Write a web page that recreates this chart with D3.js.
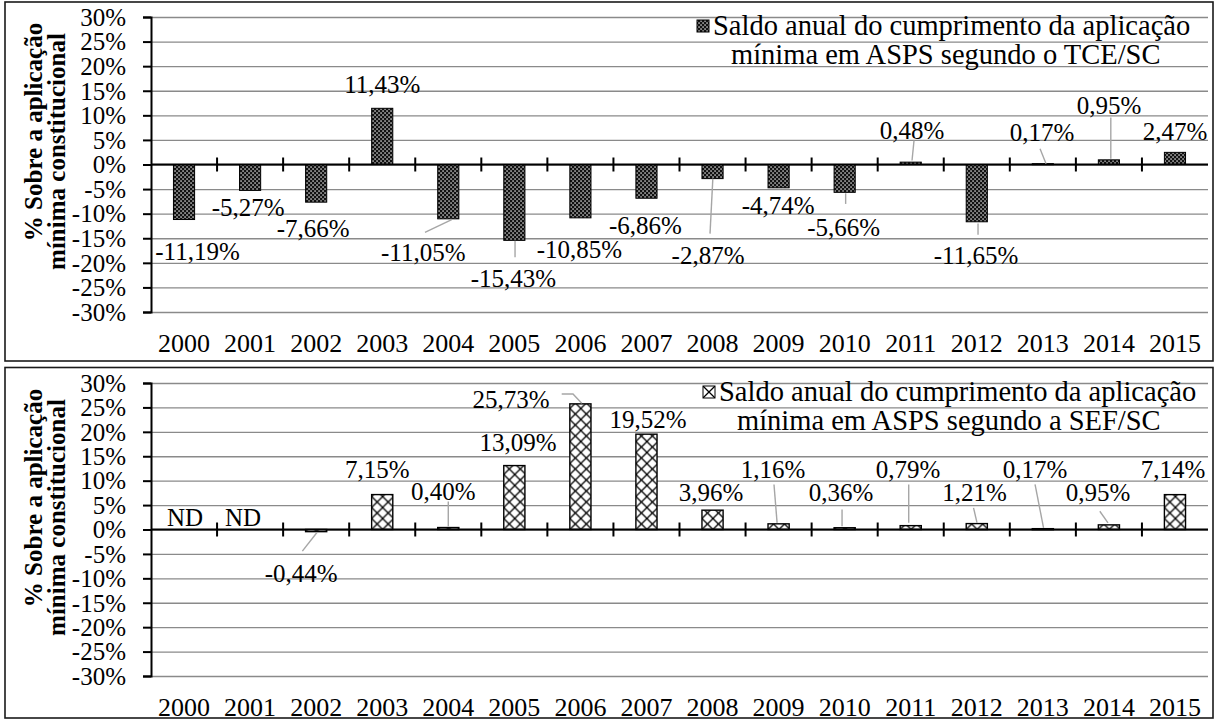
<!DOCTYPE html>
<html>
<head>
<meta charset="utf-8">
<script src="https://cdn.jsdelivr.net/npm/d3@7"></script>
<style>
  body { margin: 0; background: #fff; }
  svg { display: block; }
  text { font-family: "Liberation Serif", "Times New Roman", Times, serif; fill: #000; }
</style>
</head>
<body>
<svg id="chart" width="1215" height="721"></svg>
<script>
// ---- data ----
const years = ["2000","2001","2002","2003","2004","2005","2006","2007",
               "2008","2009","2010","2011","2012","2013","2014","2015"];
const yTicks = [30, 25, 20, 15, 10, 5, 0, -5, -10, -15, -20, -25, -30];

// annual balance (% over the constitutional minimum), TCE/SC
const tceValues = [-11.19, -5.27, -7.66, 11.43, -11.05, -15.43, -10.85, -6.86,
                   -2.87, -4.74, -5.66, 0.48, -11.65, 0.17, 0.95, 2.47];
// annual balance (% over the constitutional minimum), SEF/SC (null = not available)
const sefValues = [null, null, -0.44, 7.15, 0.40, 13.09, 25.73, 19.52,
                   3.96, 1.16, 0.36, 0.79, 1.21, 0.17, 0.95, 7.14];

const tceLegend = ["Saldo anual do cumprimento da aplicação", "mínima em ASPS segundo o TCE/SC"];
const sefLegend = ["Saldo anual do cumprimento da aplicação", "mínima em ASPS segundo a SEF/SC"];
const axisTitle = ["% Sobre a aplicação", "mínima constitucional"];
const missingText = "ND";

// ---- label layout: [dx, dy] of label centre from the bar end, optional leader ----
const tceLabelPos = [
  {d:[13.5, 32]}, {d:[-2, 17]}, {d:[-3, 26.5]}, {d:[0, -24]},
  {d:[-25, 34], l:[[-23.3, 13.6], [3.4, 0.9]]},
  {d:[-1, 38.4], l:[[0.7, 17], [0.7, 0.4]]},
  {d:[-1, 32]}, {d:[-1, 27.4]},
  {d:[-4.5, 77], l:[[-2.5, 55], [0.3, 0]]},
  {d:[-0.5, 18]},
  {d:[-1, 35], l:[[1, 11.6], [1, 1]]},
  {d:[1.3, -31.6], l:[[3.3, -21.6], [1.3, -1.6]]},
  {d:[-0.75, 34], l:[[1.25, 13], [1.25, 1.6]]},
  {d:[-0.8, -31.2], l:[[-2.8, -14.9], [3.2, 0]]},
  {d:[0.1, -54.3], l:[[1.9, -42.3], [1.9, -1]]},
  {d:[0, -21]}
];
const sefLabelPos = [
  {d:[1, -12]}, {d:[-7, -12]},
  {d:[-15, 42], l:[[-13.8, 19.5], [0.8, 0.8]]},
  {d:[-5, -25]},
  {d:[-5, -36], l:[[0, -26], [0, -1]]},
  {d:[3.7, -23]},
  {d:[-69.4, -4], l:[[-18.7, -9.9], [-7.4, -9.9], [1.3, -0.6]]},
  {d:[1.6, -14.4]}, {d:[-1.5, -17.6]},
  {d:[-5.5, -54.3], l:[[-4.6, -39.3], [-1.5, -1]]},
  {d:[-3.6, -35.2], l:[[-2.6, -18.2], [-2.6, -1.5]]},
  {d:[-2.7, -56.1], l:[[-2, -41.1], [-2, -2.8]]},
  {d:[-2.25, -31.1], l:[[-3.25, -15.8], [0.25, -0.8]]},
  {d:[-7.8, -59.2], l:[[-7.8, -44.2], [0.7, -0.9]]},
  {d:[-10.9, -32.3], l:[[-9.1, -13.6], [-0.9, -2]]},
  {d:[-2, -25]}
];

const svg = d3.select("#chart");
const defs = svg.append("defs");

// dark dotted fill
const dots = defs.append("pattern").attr("id", "dots")
  .attr("patternUnits", "userSpaceOnUse").attr("width", 4).attr("height", 4);
dots.append("rect").attr("width", 4).attr("height", 4).attr("fill", "#111");
dots.append("rect").attr("x", 0.4).attr("y", 0.4).attr("width", 1.3).attr("height", 1.3).attr("fill", "#fff");
dots.append("rect").attr("x", 2.4).attr("y", 2.4).attr("width", 1.3).attr("height", 1.3).attr("fill", "#fff");

// open diagonal lattice, one per anchor so each bar starts on the same phase
function lattice(id, x0, y0, size) {
  const p = defs.append("pattern").attr("id", id)
    .attr("patternUnits", "userSpaceOnUse").attr("x", x0).attr("y", y0)
    .attr("width", size).attr("height", size);
  p.append("rect").attr("width", size).attr("height", size).attr("fill", "#fff");
  p.append("path").attr("d", `M0,0L${size},${size}M${size},0L0,${size}`)
    .attr("stroke", "#000").attr("stroke-width", 1.25);
  return `url(#${id})`;
}

const FS = 25;
const plotX0 = 151, plotX1 = 1208;

function drawPanel(cfg) {
  const g = svg.append("g");
  const x = d3.scaleBand().domain(years).range([plotX0, plotX1]).padding(0);
  const y = d3.scaleLinear().domain([-30, 30]).range([cfg.bottom, cfg.top]);
  const bw = x.bandwidth() * 0.32;
  const y0 = y(0);

  // frame
  g.append("rect").attr("x", cfg.frame[0]).attr("y", cfg.frame[1])
    .attr("width", cfg.frame[2] - cfg.frame[0]).attr("height", cfg.frame[3] - cfg.frame[1])
    .attr("fill", "none").attr("stroke", "#1a1a1a").attr("stroke-width", 1.6);

  // gridlines
  const grid = g.append("g").attr("transform", `translate(${plotX0},0)`)
    .call(d3.axisLeft(y).tickValues(yTicks).tickSize(-(plotX1 - plotX0)).tickFormat(""));
  grid.select(".domain").remove();
  grid.selectAll("line").attr("stroke", "#8a8a8a").attr("stroke-width", 1.4);

  // y axis
  const ya = g.append("g").attr("transform", `translate(${plotX0},0)`)
    .call(d3.axisLeft(y).tickValues(yTicks).tickSize(8).tickPadding(17).tickFormat(d => d + "%"));
  ya.attr("font-family", null);
  ya.select(".domain").attr("stroke", "#000").attr("stroke-width", 2);
  ya.selectAll("line").attr("stroke", "#000").attr("stroke-width", 2);
  ya.selectAll("text").style("font-size", FS + "px").attr("dy", "0.33em");

  // legend: swatch, first line, indented second line
  const lg = g.append("g");
  lg.append("rect").attr("x", cfg.legendX - 16).attr("y", cfg.top + 3)
    .attr("width", 12).attr("height", 12)
    .attr("fill", cfg.kind === "dots" ? "url(#dots)" : lattice(cfg.id + "-lg", cfg.legendX - 16, cfg.top + 3, 12))
    .attr("stroke", "#000").attr("stroke-width", 1);
  lg.selectAll("text.lg").data(cfg.legend).join("text")
    .attr("x", (d, i) => cfg.legendX + i * 18).attr("y", (d, i) => cfg.top + 18 + i * 29)
    .style("font-size", "28.5px").text(d => d);

  // bars
  cfg.values.forEach((v, i) => {
    if (v === null) return;
    const bx = x(years[i]) + (x.bandwidth() - bw) / 2;
    const fill = cfg.kind === "dots" ? "url(#dots)" : lattice(cfg.id + "-b" + i, bx, y0, 11);
    g.append("rect").attr("x", bx).attr("y", Math.min(y(v), y0))
      .attr("width", bw).attr("height", Math.max(Math.abs(y(v) - y0), 1))
      .attr("fill", fill).attr("stroke", "#000").attr("stroke-width", cfg.kind === "dots" ? 1 : 1.4);
  });

  // x axis line with crossing ticks at category boundaries
  g.append("line").attr("x1", plotX0).attr("x2", plotX1).attr("y1", y0).attr("y2", y0)
    .attr("stroke", "#000").attr("stroke-width", 2);
  g.selectAll("line.xt").data(years.slice(1)).join("line")
    .attr("x1", d => x(d)).attr("x2", d => x(d)).attr("y1", y0 - 7).attr("y2", y0 + 7)
    .attr("stroke", "#000").attr("stroke-width", 2);

  // category labels
  const xa = g.append("g").attr("transform", `translate(0,${cfg.bottom})`)
    .call(d3.axisBottom(x).tickSize(0).tickPadding(0));
  xa.attr("font-family", null);
  xa.select(".domain").remove();
  xa.selectAll("text").style("font-size", "26px").attr("y", 31.5).attr("dy", "0.33em");

  // data labels and leader lines
  cfg.values.forEach((v, i) => {
    const cx = x(years[i]) + x.bandwidth() / 2;
    const ey = v === null ? y0 : y(v);
    const p = cfg.labels[i];
    if (p.l) {
      g.append("path")
        .attr("d", d3.line()(p.l.map(q => [cx + q[0], ey + q[1]])))
        .attr("fill", "none").attr("stroke", "#a6a6a6").attr("stroke-width", 1.4);
    }
    g.append("text").attr("x", cx + p.d[0]).attr("y", ey + p.d[1]).attr("dy", "0.33em")
      .attr("text-anchor", "middle").style("font-size", FS + "px")
      .text(v === null ? missingText : d3.format(".2f")(v).replace("−", "-").replace(".", ",") + "%");
  });

  // axis title, two rotated lines
  axisTitle.forEach((s, i) => {
    g.append("text").attr("text-anchor", "middle")
      .style("font-size", "25px").style("font-weight", "bold")
      .attr("transform", `translate(${42 + i * 23},${cfg.titleY[i]}) rotate(-90)`)
      .text(s);
  });
}

drawPanel({id: "tce", kind: "dots", values: tceValues, labels: tceLabelPos, legend: tceLegend,
  top: 17, bottom: 312, frame: [5, 2, 1213, 361], legendX: 713, titleY: [132, 151.5]});
drawPanel({id: "sef", kind: "lattice", values: sefValues, labels: sefLabelPos, legend: sefLegend,
  top: 383, bottom: 676, frame: [5, 367.5, 1213, 718], legendX: 719, titleY: [498, 517.5]});
</script>
</body>
</html>
